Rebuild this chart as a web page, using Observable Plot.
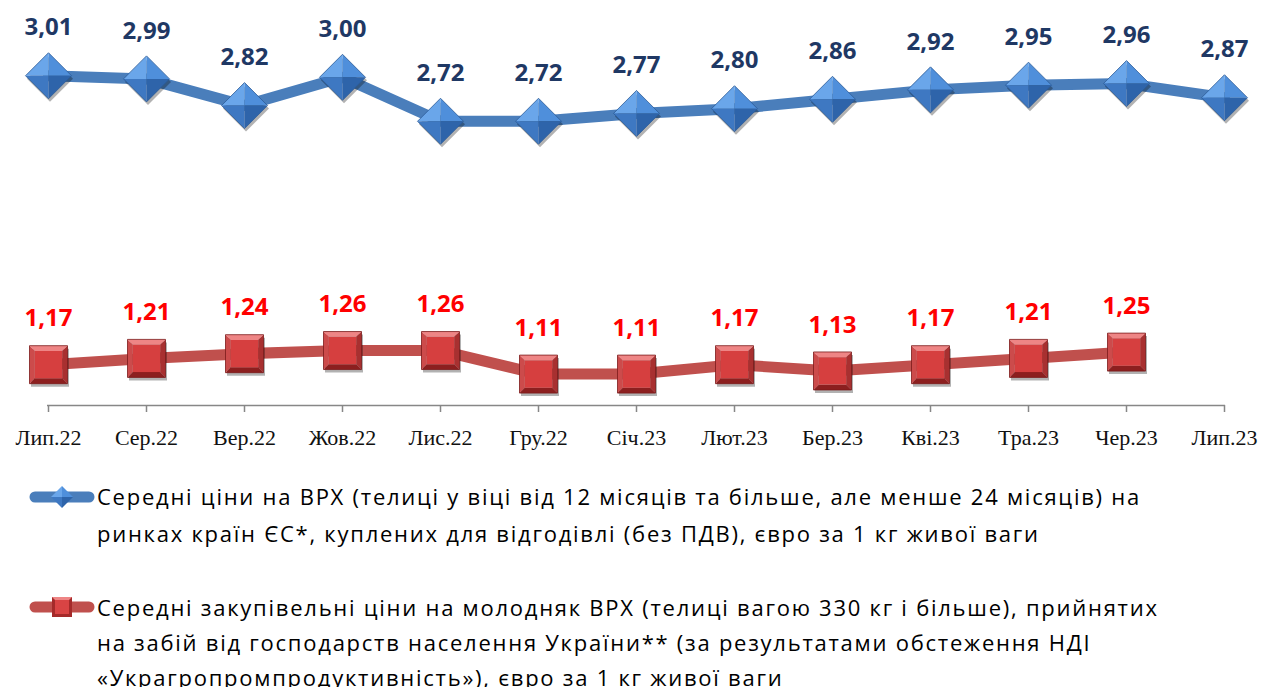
<!DOCTYPE html>
<html><head><meta charset="utf-8">
<script src="https://cdn.jsdelivr.net/npm/d3@7"></script>
<script src="https://cdn.jsdelivr.net/npm/@observablehq/plot@0.6"></script>
<style>
body{margin:0;background:#fff;width:1262px;height:687px;overflow:hidden;position:relative;font-family:"Open Sans",sans-serif;}
#chart{position:absolute;left:0;top:0;}
.leg{position:absolute;left:0;width:1262px;}
.leg svg.sym{position:absolute;left:27px;}
.leg .txt{position:absolute;left:97px;font-size:22px;letter-spacing:1.75px;color:#000;white-space:nowrap;}
</style></head><body>
<div id="chart"></div>
<div class="leg" style="top:478px">
  <svg class="sym" width="70" height="30" style="top:4px">
    <line x1="8" y1="15" x2="62" y2="15" stroke="#4A7EBB" stroke-width="11" stroke-linecap="round"/>
    <path d="M35,4 L46,15 L35,15Z" fill="#4F8FDB"/><path d="M35,4 L24,15 L35,15Z" fill="#6AA6EA"/>
    <path d="M35,26 L46,15 L35,15Z" fill="#2E64AA"/><path d="M35,26 L24,15 L35,15Z" fill="#3E78C2"/>
  </svg>
  <div class="txt" style="line-height:37px">Середні ціни на ВРХ (телиці у віці від 12 місяців та більше, але менше 24 місяців) на<br>ринках країн ЄС*, куплених для відгодівлі (без ПДВ), євро за 1 кг живої ваги</div>
</div>
<div class="leg" style="top:590px">
  <svg class="sym" width="70" height="30" style="top:2px">
    <line x1="8" y1="15" x2="62" y2="15" stroke="#C0504D" stroke-width="11" stroke-linecap="round"/>
    <rect x="25" y="5" width="20" height="20" fill="#A52A2A"/>
    <rect x="28" y="8" width="14" height="14" fill="#D94444"/>
    <path d="M25,5 L45,5 L42,8 L28,8Z" fill="#EE8585"/>
  </svg>
  <div class="txt" style="line-height:35px">Середні закупівельні ціни на молодняк ВРХ (телиці вагою 330 кг і більше), прийнятих<br>на забій від господарств населення України** (за результатами обстеження НДІ<br>«Украгропромпродуктивність»), євро за 1 кг живої ваги</div>
</div>
<script>
const months = ["Лип.22","Сер.22","Вер.22","Жов.22","Лис.22","Гру.22","Січ.23","Лют.23","Бер.23","Кві.23","Тра.23","Чер.23","Лип.23"];
const euPrices = [3.01,2.99,2.82,3.00,2.72,2.72,2.77,2.80,2.86,2.92,2.95,2.96,2.87];
const uaPrices = [1.17,1.21,1.24,1.26,1.26,1.11,1.11,1.17,1.13,1.17,1.21,1.25];

const eu = euPrices.map((v,i)=>({month:months[i], value:v}));
const ua = uaPrices.map((v,i)=>({month:months[i], value:v}));
const fmt = v => v.toFixed(2).replace(".", ",");

function shape(pts){
  return {draw(ctx, size){
    const r = Math.sqrt(size/Math.PI);
    ctx.moveTo(pts[0][0]*r, pts[0][1]*r);
    for (let i=1;i<pts.length;i++) ctx.lineTo(pts[i][0]*r, pts[i][1]*r);
    ctx.closePath();
  }};
}
const dFull = shape([[0,-1],[1,0],[0,1],[-1,0]]);
const dTL = shape([[0,0],[-1,0],[0,-1]]);
const dTR = shape([[0,0],[0,-1],[1,0]]);
const dBR = shape([[0,0],[1,0],[0,1]]);
const dBL = shape([[0,0],[0,1],[-1,0]]);
const k = 0.72;
const sFull = shape([[-1,-1],[1,-1],[1,1],[-1,1]]);
const sTop = shape([[-1,-1],[1,-1],[k,-k],[-k,-k]]);
const sRight = shape([[1,-1],[1,1],[k,k],[k,-k]]);
const sBottom = shape([[1,1],[-1,1],[-k,k],[k,k]]);
const sLeft = shape([[-1,1],[-1,-1],[-k,-k],[-k,k]]);
const sFace = shape([[-k,-k],[k,-k],[k,k],[-k,k]]);

const DR = 23, SR = 19;
const dm = (data, symbol, fill, extra={}) => Plot.dot(data, {x:"month", y:"value", r:DR, symbol, fill, stroke:"none", ...extra});
const sm = (data, symbol, fill, extra={}) => Plot.dot(data, {x:"month", y:"value", r:SR, symbol, fill, stroke:"none", ...extra});

const chart = Plot.plot({
  width:1262, height:460,
  marginLeft:47, marginRight:37, marginTop:14, marginBottom:55,
  x:{type:"point", domain:months, padding:0, label:null},
  y:{domain:[0.91,3.4], axis:null},
  style:{background:"transparent", overflow:"visible"},
  marks:[
    Plot.ruleY([0.91], {stroke:"#878787", strokeWidth:1.5}),
    Plot.axisX({tickSize:7, text:null, stroke:"#878787", strokeWidth:1.5, label:null}),
    Plot.axisX({tickSize:0, tickPadding:24, fill:"#111", fontSize:22, fontFamily:"Liberation Serif", fontWeight:"normal", label:null}),
    Plot.line(eu, {x:"month", y:"value", stroke:"#4A7EBB", strokeWidth:11}),
    Plot.line(ua, {x:"month", y:"value", stroke:"#C0504D", strokeWidth:11}),
    dm(eu, dFull, "#000", {fillOpacity:0.3, dx:1.5, dy:3, ariaLabel:"shadow"}),
    dm(eu, dTL, "#6AA6EA"), dm(eu, dTR, "#4F8FDB"), dm(eu, dBR, "#2E64AA"), dm(eu, dBL, "#3E78C2"),
    dm(eu, dFull, "none", {stroke:"#2B5B97", strokeWidth:0.8}),
    sm(ua, sFull, "#000", {fillOpacity:0.3, dx:1.5, dy:3, ariaLabel:"shadow"}),
    sm(ua, sTop, "#EE8585"), sm(ua, sLeft, "#CC4B4B"), sm(ua, sRight, "#A83030"), sm(ua, sBottom, "#8C1F1F"), sm(ua, sFace, "#D63F3F"),
    sm(ua, sFull, "none", {stroke:"#7B1B1B", strokeWidth:0.8}),
    Plot.text(eu, {x:"month", y:"value", text:d=>fmt(d.value), dy:-48, fill:"#1F3864", fontSize:24, fontWeight:"bold", fontFamily:"Open Sans"}),
    Plot.text(ua, {x:"month", y:"value", text:d=>fmt(d.value), dy:-46, fill:"#FF0000", fontSize:24, fontWeight:"bold", fontFamily:"Open Sans"})
  ]
});
const svg = chart.tagName.toLowerCase() === "svg" ? chart : chart.querySelector("svg");
const defs = d3.select(svg).insert("defs", ":first-child");
const f = defs.append("filter").attr("id","blur").attr("x","-50%").attr("y","-50%").attr("width","200%").attr("height","200%");
f.append("feGaussianBlur").attr("stdDeviation", 2);
svg.querySelectorAll('g[aria-label="shadow"]').forEach(g => g.setAttribute("filter","url(#blur)"));
document.getElementById("chart").appendChild(chart);
</script>
</body></html>
